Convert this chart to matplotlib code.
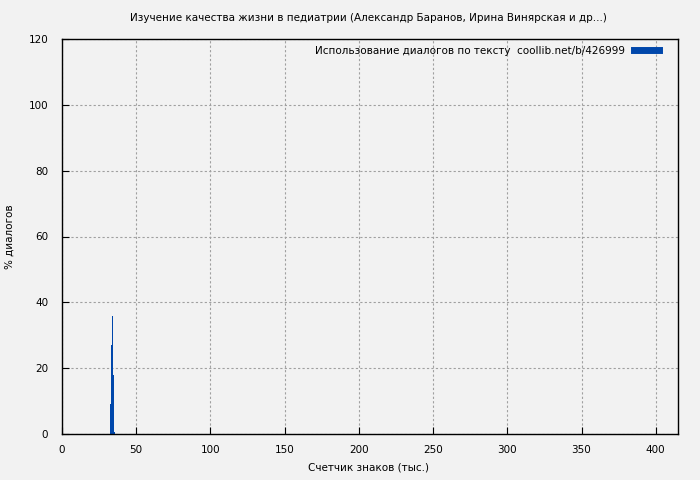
import matplotlib.pyplot as plt
from matplotlib.lines import Line2D

# данные гистограммы (тыс. знаков -> % диалогов)
x_centers = [33.0, 33.65, 34.3, 34.95, 35.6]
pct_dialogs = [9, 27, 36, 18, 0.6]
bar_width = 0.67

title = "Изучение качества жизни в педиатрии (Александр Баранов, Ирина Винярская и др...)"
legend_label = "Использование диалогов по тексту  coollib.net/b/426999"
x_ticks = [0, 50, 100, 150, 200, 250, 300, 350, 400]
y_ticks = [0, 20, 40, 60, 80, 100, 120]

bg = "#f2f2f2"
bar_color = "#0047ab"

fig = plt.figure(figsize=(7, 4.8), dpi=100, facecolor=bg)
ax = fig.add_axes([62 / 700, 1 - 434 / 480, (678 - 62) / 700, (434 - 39) / 480])
ax.set_facecolor(bg)

ax.bar(x_centers, pct_dialogs, width=bar_width, color=bar_color, linewidth=0)

ax.set_xlim(0, 415)
ax.set_ylim(0, 120)
ax.set_xticks(x_ticks)
ax.set_yticks(y_ticks)
ax.tick_params(direction="in", length=5, labelsize=7.5)
ax.tick_params(axis="x", pad=8)
ax.tick_params(axis="y", pad=10)
ax.grid(True, color="#a0a0a0", linestyle=(0, (2, 2)), linewidth=0.8)
ax.set_axisbelow(True)
for s in ax.spines.values():
    s.set_color("black")
    s.set_linewidth(1)

ax.set_xlabel("Счетчик знаков (тыс.)", fontsize=7.5)
ax.set_ylabel("% диалогов", fontsize=7.5)
ax.xaxis.set_label_coords((368 - 62) / 616, -(463 - 434) / 395)
ax.yaxis.set_label_coords(-(62 - 15) / 616, 0.5)
fig.text(368 / 700, 1 - 18 / 480, title, ha="center", va="center", fontsize=7.5)

handle = Line2D([], [], color=bar_color, linewidth=5)
leg = ax.legend([handle], [legend_label], loc="upper right", fontsize=7.5,
                frameon=False, markerfirst=False, handlelength=2.4,
                handletextpad=0.9, bbox_to_anchor=(1 - 12 / 616, 1),
                borderaxespad=0.25)

fig.savefig("out.png", dpi=100, facecolor=bg)
